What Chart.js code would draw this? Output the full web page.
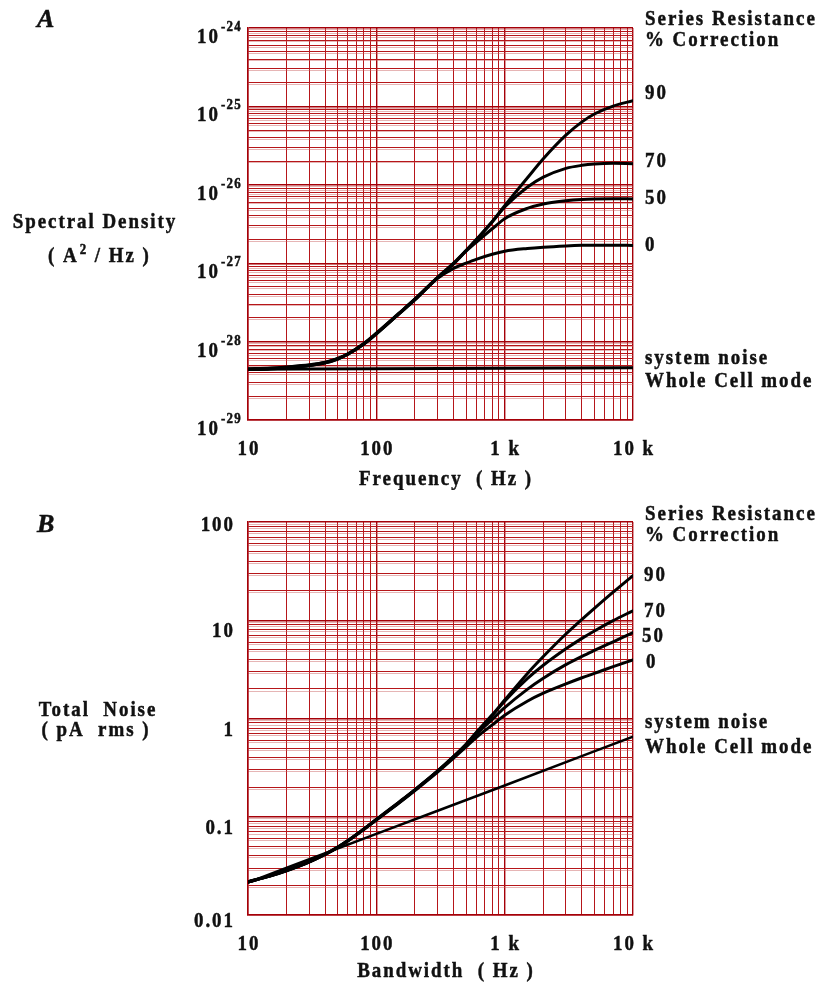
<!DOCTYPE html>
<html>
<head>
<meta charset="utf-8">
<script src="https://cdn.jsdelivr.net/npm/chart.js@4"></script>
<style>
  html, body { margin: 0; padding: 0; background: #fff; }
  #wrap { position: relative; width: 817px; height: 983px; }
  canvas { position: absolute; left: 0; }
</style>
</head>
<body>
<div id="wrap">
  <canvas id="spectrum" width="817" height="490" style="top:0"></canvas>
  <canvas id="noise" width="817" height="493" style="top:490px"></canvas>
</div>
<script>
// frequency / bandwidth sample points (Hz)
const freqHz = [10, 15, 20, 30, 40, 50, 60, 80, 100, 150, 200, 300, 400, 500, 600, 800, 1000, 1500, 2000, 3000, 4000, 5000, 7000, 10000];
const sysFreqHz = [10, 100, 1000, 10000];

// A: current noise spectral density (A^2/Hz) by % series resistance correction
const density90 = [4.5e-29, 4.6e-29, 4.75e-29, 5.05e-29, 5.45e-29, 6.1e-29, 7.0e-29, 9.5e-29, 1.28e-28, 2.3e-28, 3.5e-28, 6.6e-28, 1.0e-27, 1.45e-27, 2.0e-27, 3.4e-27, 5.4e-27, 1.22e-26, 2.15e-26, 4.3e-26, 6.35e-26, 8.0e-26, 1.01e-25, 1.18e-25];
const density70 = [4.45e-29, 4.55e-29, 4.7e-29, 5.0e-29, 5.4e-29, 6.05e-29, 6.95e-29, 9.4e-29, 1.27e-28, 2.28e-28, 3.48e-28, 6.55e-28, 0.99e-27, 1.44e-27, 1.98e-27, 3.35e-27, 5.2e-27, 9.3e-27, 1.25e-26, 1.62e-26, 1.77e-26, 1.84e-26, 1.88e-26, 1.86e-26];
const density50 = [4.4e-29, 4.5e-29, 4.65e-29, 4.95e-29, 5.35e-29, 6.0e-29, 6.9e-29, 9.3e-29, 1.26e-28, 2.26e-28, 3.45e-28, 6.5e-28, 0.98e-27, 1.42e-27, 1.85e-27, 2.75e-27, 3.7e-27, 5.0e-27, 5.7e-27, 6.25e-27, 6.5e-27, 6.6e-27, 6.65e-27, 6.6e-27];
const density0 = [4.4e-29, 4.5e-29, 4.65e-29, 4.95e-29, 5.35e-29, 6.0e-29, 6.9e-29, 9.3e-29, 1.25e-28, 2.25e-28, 3.4e-28, 6.4e-28, 8.6e-28, 1.0e-27, 1.12e-27, 1.3e-27, 1.42e-27, 1.54e-27, 1.6e-27, 1.66e-27, 1.69e-27, 1.7e-27, 1.7e-27, 1.68e-27];
const densitySystem = [4.45e-29, 4.52e-29, 4.58e-29, 4.65e-29];

// B: total rms noise (pA) integrated to the given bandwidth
const noise90 = [0.0218, 0.0252, 0.0285, 0.0349, 0.0417, 0.0491, 0.0573, 0.0753, 0.0941, 0.141, 0.189, 0.293, 0.412, 0.548, 0.72, 1.09, 1.54, 2.86, 4.27, 7.24, 10.2, 13.2, 19.3, 28.5];
const noise70 = [0.0218, 0.0251, 0.0284, 0.0348, 0.0416, 0.0490, 0.0571, 0.0750, 0.0937, 0.140, 0.188, 0.291, 0.409, 0.544, 0.71, 1.07, 1.50, 2.54, 3.48, 5.12, 6.54, 7.78, 9.9, 12.5];
const noise50 = [0.0217, 0.0250, 0.0283, 0.0347, 0.0415, 0.0488, 0.0569, 0.0747, 0.0933, 0.139, 0.187, 0.289, 0.405, 0.535, 0.69, 0.98, 1.29, 1.98, 2.57, 3.53, 4.29, 4.93, 6.04, 7.48];
const noise0 = [0.0217, 0.0250, 0.0282, 0.0346, 0.0413, 0.0486, 0.0566, 0.0742, 0.0926, 0.138, 0.185, 0.285, 0.395, 0.515, 0.64, 0.86, 1.08, 1.50, 1.81, 2.25, 2.6, 2.88, 3.37, 3.95];
const noiseSystem = [0.0214, 0.067, 0.208, 0.655];

// axis labels
const freqTickValues = [10, 100, 1000, 10000];
const freqTickLabels = ['10', '100', '1 k', '10 k'];
const densityExponents = [-24, -25, -26, -27, -28, -29];
const noiseTickValues = [100, 10, 1, 0.1, 0.01];
const noiseTickLabels = ['100', '10', '1', '0.1', '0.01'];
const seriesNames = ['90', '70', '50', '0'];

const GRID_DARK = 'rgb(165, 0, 8)';
const GRID_MID = 'rgb(182, 22, 26)';
const GRID_LIGHT = 'rgba(200, 90, 90, 0.45)';
const FONT = '"Liberation Serif", "Times New Roman", serif';

// 1..9 per decade, restricted to the axis range
function decadeTicks(scale) {
  const lo = Math.floor(Math.log10(scale.min) + 1e-9) - 1;
  const hi = Math.ceil(Math.log10(scale.max) - 1e-9) + 1;
  const ticks = [];
  for (let e = lo; e <= hi; e++) {
    for (let m = 1; m <= 9; m++) {
      const v = m * Math.pow(10, e);
      if (v >= scale.min * 0.9999 && v <= scale.max * 1.0001) ticks.push({ value: v, major: m === 1 });
    }
  }
  scale.ticks = ticks;
}

function logAxis(min, max, position) {
  return {
    type: 'logarithmic', position, min, max,
    afterBuildTicks: decadeTicks,
    ticks: { display: false },
    border: { display: true, color: GRID_DARK, width: 1.5 },
    grid: {
      drawTicks: false,
      color: ctx => (ctx.tick && ctx.tick.major ? GRID_DARK : GRID_MID),
      lineWidth: ctx => (ctx.tick && ctx.tick.major ? 1.4 : 1)
    }
  };
}

// faint second set of horizontal rulings, slightly offset
function ghostAxis(min, max, shift) {
  return {
    type: 'logarithmic', position: 'left', min: min * shift, max: max * shift,
    afterBuildTicks: decadeTicks,
    ticks: { display: false },
    border: { display: false },
    grid: { drawTicks: false, color: GRID_LIGHT, lineWidth: 1 }
  };
}

function drawText(ctx, str, x, y, o = {}) {
  const size = o.size || 22;
  const sx = o.sx || 0.86;
  const spacing = o.spacing === undefined ? 2.3 : o.spacing;
  ctx.save();
  ctx.font = (o.italic ? 'italic ' : '') + 'bold ' + size + 'px ' + FONT;
  ctx.letterSpacing = spacing + 'px';
  ctx.fillStyle = '#111';
  ctx.strokeStyle = '#111';
  ctx.lineWidth = 0.5;
  ctx.textBaseline = 'alphabetic';
  ctx.textAlign = 'left';
  const w = (ctx.measureText(str).width - spacing) * sx;
  let left = x;
  if (o.align === 'center') left = x - w / 2;
  else if (o.align === 'right') left = x - w;
  ctx.translate(left, y);
  ctx.scale(sx, 1);
  ctx.fillText(str, 0, 0);
  ctx.strokeText(str, 0, 0);
  ctx.restore();
  return w;
}

function series(xs, ys, width) {
  return {
    data: xs.map((x, i) => ({ x, y: ys[i] })),
    borderColor: '#000',
    borderWidth: width,
    pointRadius: 0,
    fill: false,
    cubicInterpolationMode: 'monotone',
    borderCapStyle: 'round',
    borderJoinStyle: 'round'
  };
}

function freqLabels(chart) {
  const { ctx, chartArea, scales } = chart;
  freqTickValues.forEach((v, i) => {
    drawText(ctx, freqTickLabels[i], scales.x.getPixelForValue(v), chartArea.bottom + 35, { align: 'center' });
  });
}

function baseOptions(yMin, yMax, padTop, padBottom) {
  return {
    responsive: false,
    animation: false,
    layout: { padding: { left: 248, right: 184, top: padTop, bottom: padBottom } },
    plugins: { legend: { display: false }, tooltip: { enabled: false } },
    scales: {
      x: logAxis(10, 10000, 'bottom'),
      y: logAxis(yMin, yMax, 'left'),
      yGhost: ghostAxis(yMin, yMax, 1.05)
    }
  };
}

// ---- A: spectral density ----
new Chart(document.getElementById('spectrum'), {
  type: 'line',
  data: {
    datasets: [
      series(freqHz, density0, 3),
      series(freqHz, density50, 3),
      series(freqHz, density70, 3),
      series(freqHz, density90, 3),
      series(sysFreqHz, densitySystem, 3)
    ]
  },
  options: baseOptions(1e-29, 1e-24, 28, 70),
  plugins: [{
    id: 'spectrumText',
    afterDraw(chart) {
      const { ctx, scales } = chart;
      densityExponents.forEach(e => {
        const y = scales.y.getPixelForValue(Math.pow(10, e));
        drawText(ctx, '10', 197, y + 15);
        drawText(ctx, String(e), 221, y + 3, { size: 15, spacing: 1.5 });
      });
      freqLabels(chart);
      drawText(ctx, 'Frequency  ( Hz )', 445, 485, { align: 'center' });

      drawText(ctx, 'A', 37, 27, { size: 26, italic: true, sx: 1, spacing: 0 });
      drawText(ctx, 'Spectral Density', 94, 228, { align: 'center' });
      let x = 48;
      x += drawText(ctx, '( A', x, 262) + 3;
      x += drawText(ctx, '2', x, 254, { size: 15 }) + 2;
      drawText(ctx, ' / Hz )', x, 262);

      drawText(ctx, 'Series Resistance', 645, 25);
      drawText(ctx, '% Correction', 645, 46);
      drawText(ctx, seriesNames[0], 645, 99);
      drawText(ctx, seriesNames[1], 645, 167);
      drawText(ctx, seriesNames[2], 645, 204);
      drawText(ctx, seriesNames[3], 645, 251);
      drawText(ctx, 'system noise', 645, 364);
      drawText(ctx, 'Whole Cell mode', 645, 387);
    }
  }]
});

// ---- B: total noise ----
new Chart(document.getElementById('noise'), {
  type: 'line',
  data: {
    datasets: [
      series(freqHz, noise0, 3),
      series(freqHz, noise50, 3),
      series(freqHz, noise70, 3),
      series(freqHz, noise90, 3),
      series(sysFreqHz, noiseSystem, 2.5)
    ]
  },
  options: baseOptions(0.01, 100, 32, 68),
  plugins: [{
    id: 'noiseText',
    afterDraw(chart) {
      const { ctx, scales } = chart;
      noiseTickValues.forEach((v, i) => {
        const y = scales.y.getPixelForValue(v);
        const nudge = i === 0 ? 9 : (i === noiseTickValues.length - 1 ? 12 : 17);
        drawText(ctx, noiseTickLabels[i], 233, y + nudge, { align: 'right' });
      });
      freqLabels(chart);
      drawText(ctx, 'Bandwidth  ( Hz )', 445, 487, { align: 'center' });

      drawText(ctx, 'B', 37, 42, { size: 26, italic: true, sx: 1, spacing: 0 });
      drawText(ctx, 'Total  Noise', 97, 226, { align: 'center' });
      drawText(ctx, '( pA  rms )', 95, 246, { align: 'center' });

      drawText(ctx, 'Series Resistance', 645, 30);
      drawText(ctx, '% Correction', 645, 51);
      drawText(ctx, seriesNames[0], 644, 91);
      drawText(ctx, seriesNames[1], 644, 127);
      drawText(ctx, seriesNames[2], 642, 152);
      drawText(ctx, seriesNames[3], 646, 178);
      drawText(ctx, 'system noise', 645, 238);
      drawText(ctx, 'Whole Cell mode', 645, 263);
    }
  }]
});
</script>
</body>
</html>
